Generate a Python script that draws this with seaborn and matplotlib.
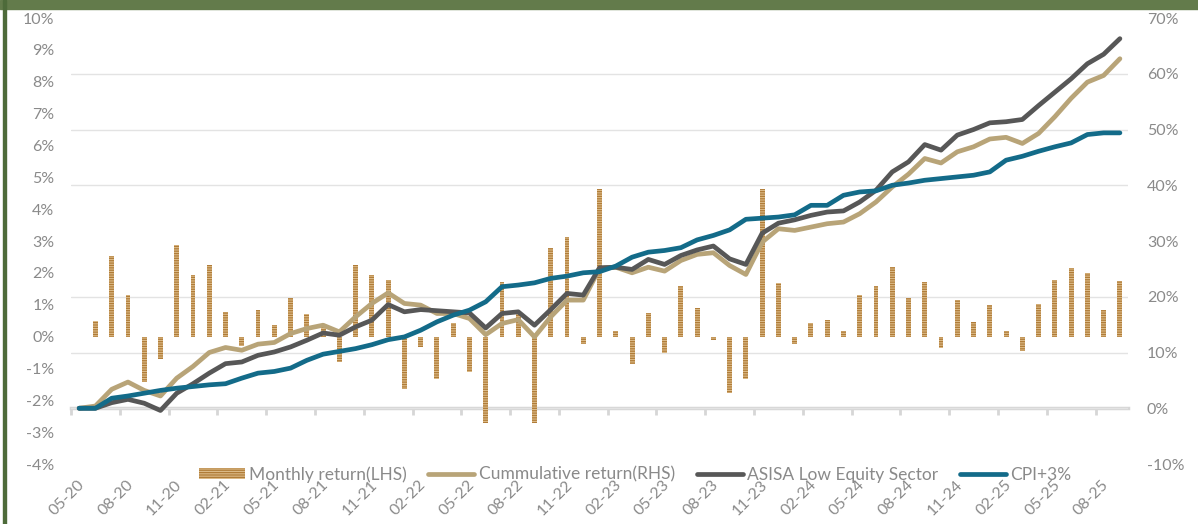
import numpy as np
import pandas as pd
import matplotlib.pyplot as plt
from matplotlib.patches import Rectangle
from matplotlib.transforms import ScaledTranslation
from matplotlib.ticker import FuncFormatter
import seaborn as sns

# monthly categories 05-20 .. 09-25
months = pd.date_range('2020-05-01', periods=65, freq='MS').strftime('%m-%y').tolist()

# monthly return, % (left axis)
monthly_return = [
    np.nan, 0.50, 2.54, 1.32, -1.44, -0.69, 2.88, 1.94, 2.26, 0.78, -0.30, 0.85, 0.35,
    1.20, 0.72, 0.40, -0.80, 2.26, 1.94, 1.79, -1.66, -0.34, -1.32, 0.44, -1.12, -2.70,
    1.70, 0.75, -2.70, 2.79, 3.13, -0.22, 4.64, 0.16, -0.85, 0.75, -0.50, 1.60, 0.91,
    -0.10, -1.78, -1.32, 4.64, 1.69, -0.23, 0.44, 0.53, 0.19, 1.32, 1.60, 2.19, 1.22,
    1.72, -0.35, 1.16, 0.47, 1.00, 0.19, -0.44, 1.03, 1.79, 2.16, 2.00, 0.85, 1.75,
]

# cumulative series, % (right axis)
cumulative_return = [
    0.0, 0.4, 3.4, 4.7, 3.2, 2.2, 5.4, 7.5, 10.0, 10.9, 10.4, 11.5, 11.8,
    13.4, 14.3, 14.9, 13.7, 16.4, 18.8, 20.7, 18.8, 18.5, 17.0, 17.0, 16.1, 13.2,
    15.2, 15.9, 12.8, 16.4, 19.4, 19.4, 25.1, 25.3, 24.3, 25.3, 24.6, 26.5, 27.6,
    27.9, 25.6, 24.0, 29.8, 32.2, 31.9, 32.5, 33.1, 33.4, 34.9, 37.0, 39.7, 42.0,
    44.8, 44.0, 46.0, 46.9, 48.3, 48.6, 47.5, 49.3, 52.3, 55.6, 58.5, 59.7, 62.7,
]
asisa_low_equity = [
    0.0, 0.0, 1.0, 1.6, 0.9, -0.4, 2.7, 4.4, 6.3, 8.0, 8.3, 9.5, 10.1,
    11.0, 12.2, 13.5, 13.1, 14.6, 15.8, 18.6, 17.3, 17.7, 17.5, 17.3, 17.1, 14.4,
    17.0, 17.3, 14.9, 17.7, 20.6, 20.3, 25.2, 25.3, 24.9, 26.7, 25.8, 27.4, 28.4,
    29.1, 26.8, 25.8, 31.4, 33.2, 33.8, 34.6, 35.2, 35.4, 37.0, 39.1, 42.4, 44.2,
    47.3, 46.3, 49.0, 50.0, 51.2, 51.4, 51.8, 54.3, 56.7, 59.1, 61.8, 63.5, 66.3,
]
cpi_plus_3 = [
    0.0, 0.0, 1.8, 2.2, 2.7, 3.2, 3.6, 3.9, 4.2, 4.4, 5.4, 6.3, 6.6,
    7.2, 8.6, 9.7, 10.2, 10.7, 11.4, 12.3, 12.8, 14.0, 15.5, 16.7, 17.6, 19.1,
    21.8, 22.1, 22.5, 23.3, 23.7, 24.3, 24.5, 25.5, 27.1, 28.0, 28.3, 28.8, 30.2,
    31.0, 32.0, 33.9, 34.1, 34.3, 34.7, 36.4, 36.4, 38.2, 38.8, 39.0, 40.0, 40.4,
    40.9, 41.2, 41.5, 41.8, 42.4, 44.5, 45.2, 46.1, 46.9, 47.6, 49.1, 49.4, 49.4,
]

left_ticks = list(range(-4, 11))
right_ticks = list(range(-10, 71, 10))

TEXT = '#8a8a8a'
GRID = '#e3e3e3'
BAR_FACE = '#dcbb88'
BAR_HATCH = '#b07c38'
TAN = '#b8a478'
GREY = '#575757'
TEAL = '#136b89'

sns.set_style('white')
plt.rcParams['font.family'] = ['Lato', 'DejaVu Sans']
plt.rcParams['hatch.linewidth'] = 0.9

fig, ax = plt.subplots(figsize=(11.98, 5.24), dpi=100)
fig.subplots_adjust(left=0.0593, right=0.9416, top=0.9656, bottom=0.1145)

df = pd.DataFrame({'month': months, 'monthly': monthly_return})
sns.barplot(data=df, x='month', y='monthly', order=months, color=BAR_FACE,
            saturation=1, width=0.3, errorbar=None, hatch='-------',
            edgecolor=BAR_HATCH, linewidth=0, ax=ax, label='Monthly return(LHS)')

ax2 = ax.twinx()
x = np.arange(len(months))
for vals, col, lab in [(cumulative_return, TAN, 'Cummulative return(RHS)'),
                       (asisa_low_equity, GREY, 'ASISA Low Equity Sector'),
                       (cpi_plus_3, TEAL, 'CPI+3%')]:
    sns.lineplot(x=x, y=vals, ax=ax2, color=col, linewidth=3.4, label=lab,
                 solid_capstyle='round', solid_joinstyle='round')

for a in (ax, ax2):
    if a.get_legend() is not None:
        a.get_legend().remove()
    for s in a.spines.values():
        s.set_visible(False)
    a.set_xlabel('')
    a.set_ylabel('')

ax.set_xlim(-0.5, len(months) - 0.5)
ax.set_ylim(left_ticks[0], left_ticks[-1])
ax2.set_ylim(right_ticks[0], right_ticks[-1])
ax.set_yticks(left_ticks)
ax2.set_yticks(right_ticks)
pct = FuncFormatter(lambda v, p: f'{v:.0f}%')
ax.yaxis.set_major_formatter(pct)
ax2.yaxis.set_major_formatter(pct)
ax.tick_params(axis='y', length=0, pad=12, labelsize=11.5, labelcolor=TEXT)
ax2.tick_params(axis='y', length=0, pad=13.5, labelsize=11.5, labelcolor=TEXT)

# gridlines follow the right axis but sit behind the bars
lo, hi = ax.get_ylim()
rlo, rhi = ax2.get_ylim()
grid_pos = lo + (np.array(right_ticks) - rlo) / (rhi - rlo) * (hi - lo)
ax.grid(False)
ax2.grid(False)
ax.set_yticks(grid_pos, minor=True)
ax.tick_params(axis='y', which='minor', length=0)
ax.yaxis.grid(True, which='minor', color=GRID, linewidth=1)
ax.set_axisbelow(True)

# category labels every 3 months
ax.set_xticks(x[::3])
ax.set_xticklabels(months[::3], rotation=45, ha='right')
ax.tick_params(axis='x', length=0, pad=10, labelsize=11.5, labelcolor=TEXT)
shift = ScaledTranslation(8 / 100, 0, fig.dpi_scale_trans)
for lbl in ax.get_xticklabels():
    lbl.set_transform(lbl.get_transform() + shift)

# horizontal axis line at 0% of the right scale
zero_frac = (0 - rlo) / (rhi - rlo)
sec = ax.secondary_xaxis(zero_frac)
sec.set_xticks(np.arange(-0.5, len(months), 3))
sec.tick_params(length=5, width=2, color='#d6d6d6', labelbottom=False, labeltop=False)
sec.spines['bottom'].set_color('#d6d6d6')
sec.spines['bottom'].set_linewidth(2.5)

h1, l1 = ax.get_legend_handles_labels()
h2, l2 = ax2.get_legend_handles_labels()
fig.legend(h1 + h2, l1 + l2, loc='center', bbox_to_anchor=(0.53, 0.095), ncol=4,
           frameon=False, fontsize=12.5, labelcolor=TEXT, handlelength=2.65,
           handletextpad=0.25, columnspacing=1.25, handleheight=0.65)

# green frame on top and left
fig.add_artist(Rectangle((0, 1 - 9 / 524), 1, 9 / 524, transform=fig.transFigure,
                         color='#637b4b', zorder=10))
fig.add_artist(Rectangle((3 / 1198, 0), 3 / 1198, 1, transform=fig.transFigure,
                         color='#4e6b3a', zorder=10))

fig.savefig('out.png', dpi=100)
